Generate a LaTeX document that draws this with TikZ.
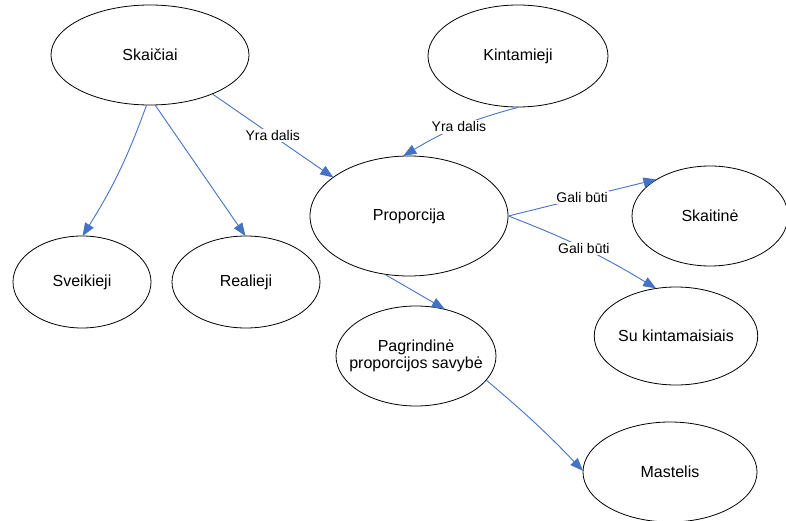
\documentclass[tikz,border=0pt]{standalone}
\usepackage{fontspec}
\setmainfont{Liberation Sans}
\usetikzlibrary{arrows.meta,shapes.geometric}
\definecolor{linkblue}{HTML}{4472C4}
\tikzset{
  concept/.style={ellipse, draw=black, line width=0.8pt, inner sep=0pt,
    font=\fontsize{16}{17}\selectfont, align=center},
  link/.style={draw=linkblue, line width=0.9pt,
    -{Triangle[length=13pt,width=10pt]}, shorten >=-0.5pt},
  linklabel/.style={fill=white, inner sep=1.5pt, font=\fontsize{14}{16}\selectfont}
}
\begin{document}
\begin{tikzpicture}[x=1pt,y=-1pt]
\useasboundingbox (0,0) rectangle (786,521);

% concepts
\node[concept, minimum width=198, minimum height=100] (sk) at (150,55) {Skaičiai};
\node[concept, minimum width=180, minimum height=102] (ki) at (518,56) {Kintamieji};
\node[concept, minimum width=198, minimum height=120] (pr) at (409,216) {Proporcija};
\node[concept, minimum width=156, minimum height=100] (st) at (710,216) {Skaitinė};
\node[concept, minimum width=138, minimum height=92]  (sv) at (82,282) {Sveikieji};
\node[concept, minimum width=148, minimum height=92]  (re) at (246,282) {Realieji};
\node[concept, minimum width=160, minimum height=100, inner xsep=-16pt] (pa) at (416,356) {Pagrindinė\\proporcijos savybė};
\node[concept, minimum width=158, minimum height=98]  (su) at (676,336) {Su kintamaisiais};
\node[concept, minimum width=174, minimum height=100] (ma) at (670,472) {Mastelis};

% links
\draw[link] (sk.-32) -- node[linklabel] {Yra dalis} (pr.153);
\draw[link] (ki.-90) to[bend right=8] node[linklabel] {Yra dalis} (pr.95);
\draw[link] (sk.-94) to[bend left=6] (sv.89);
\draw[link] (sk.-84) -- (re.91);
\draw[link] (pr.0) -- node[linklabel] {Gali būti} (st.146);
\draw[link] (pr.0) to[bend left=5] node[linklabel] {Gali būti} (su.113);
\draw[link] (pr.-112) -- (pa.59);
\draw[link] (pa.-19) to[bend left=3] (ma.179);
\end{tikzpicture}
\end{document}
